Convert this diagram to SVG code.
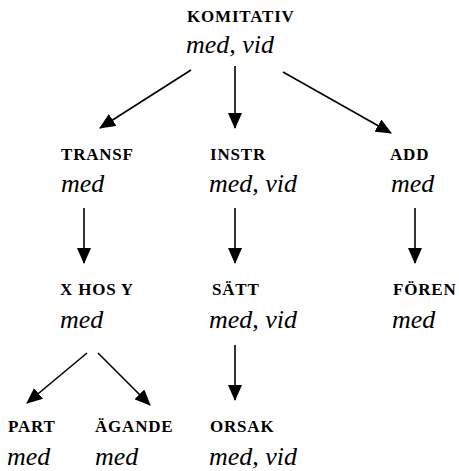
<svg xmlns="http://www.w3.org/2000/svg" width="459" height="471" viewBox="0 0 459 471">
<style>
.cap{font-family:"Liberation Serif",serif;font-weight:bold;font-size:17px;letter-spacing:0.8px;fill:#000}
.it{font-family:"Liberation Serif",serif;font-style:italic;font-size:26px;fill:#000}
.ln{stroke:#000;stroke-width:1.6;fill:none;marker-end:url(#ah)}
</style>
<defs>
<marker id="ah" markerUnits="userSpaceOnUse" markerWidth="16" markerHeight="14" viewBox="0 0 16 14" refX="15" refY="7" orient="auto">
<path d="M0,0 L16,7 L0,14 Z" fill="#000"/>
</marker>
</defs>
<rect width="459" height="471" fill="#fff"/>
<g id="connectors">
<line class="ln" x1="191" y1="70" x2="100" y2="128"/>
<line class="ln" x1="235" y1="66" x2="235" y2="128"/>
<line class="ln" x1="283" y1="72" x2="391" y2="133"/>
<line class="ln" x1="84" y1="208" x2="84" y2="263"/>
<line class="ln" x1="235" y1="208" x2="235" y2="263"/>
<line class="ln" x1="415" y1="208" x2="415" y2="263"/>
<line class="ln" x1="87" y1="353" x2="27" y2="403"/>
<line class="ln" x1="98" y1="353" x2="150" y2="405"/>
<line class="ln" x1="235" y1="345" x2="235" y2="400"/>
</g>
<g id="komitativ"><text class="cap" x="187" y="22">KOMITATIV</text><text class="it" x="186" y="53">med, vid</text></g>
<g id="transf"><text class="cap" x="61" y="160">TRANSF</text><text class="it" x="61" y="192">med</text></g>
<g id="instr"><text class="cap" x="210" y="160">INSTR</text><text class="it" x="209" y="192">med, vid</text></g>
<g id="add"><text class="cap" x="390" y="160">ADD</text><text class="it" x="391" y="192">med</text></g>
<g id="xhosy"><text class="cap" x="60" y="295">X HOS Y</text><text class="it" x="60" y="328">med</text></g>
<g id="satt"><text class="cap" x="212" y="295">SÄTT</text><text class="it" x="209" y="328">med, vid</text></g>
<g id="foren"><text class="cap" x="393" y="295">FÖREN</text><text class="it" x="392" y="328">med</text></g>
<g id="part"><text class="cap" x="8" y="432">PART</text><text class="it" x="7" y="465">med</text></g>
<g id="agande"><text class="cap" x="95" y="432">ÄGANDE</text><text class="it" x="95" y="465">med</text></g>
<g id="orsak"><text class="cap" x="210" y="432">ORSAK</text><text class="it" x="209" y="465">med, vid</text></g>
</svg>
